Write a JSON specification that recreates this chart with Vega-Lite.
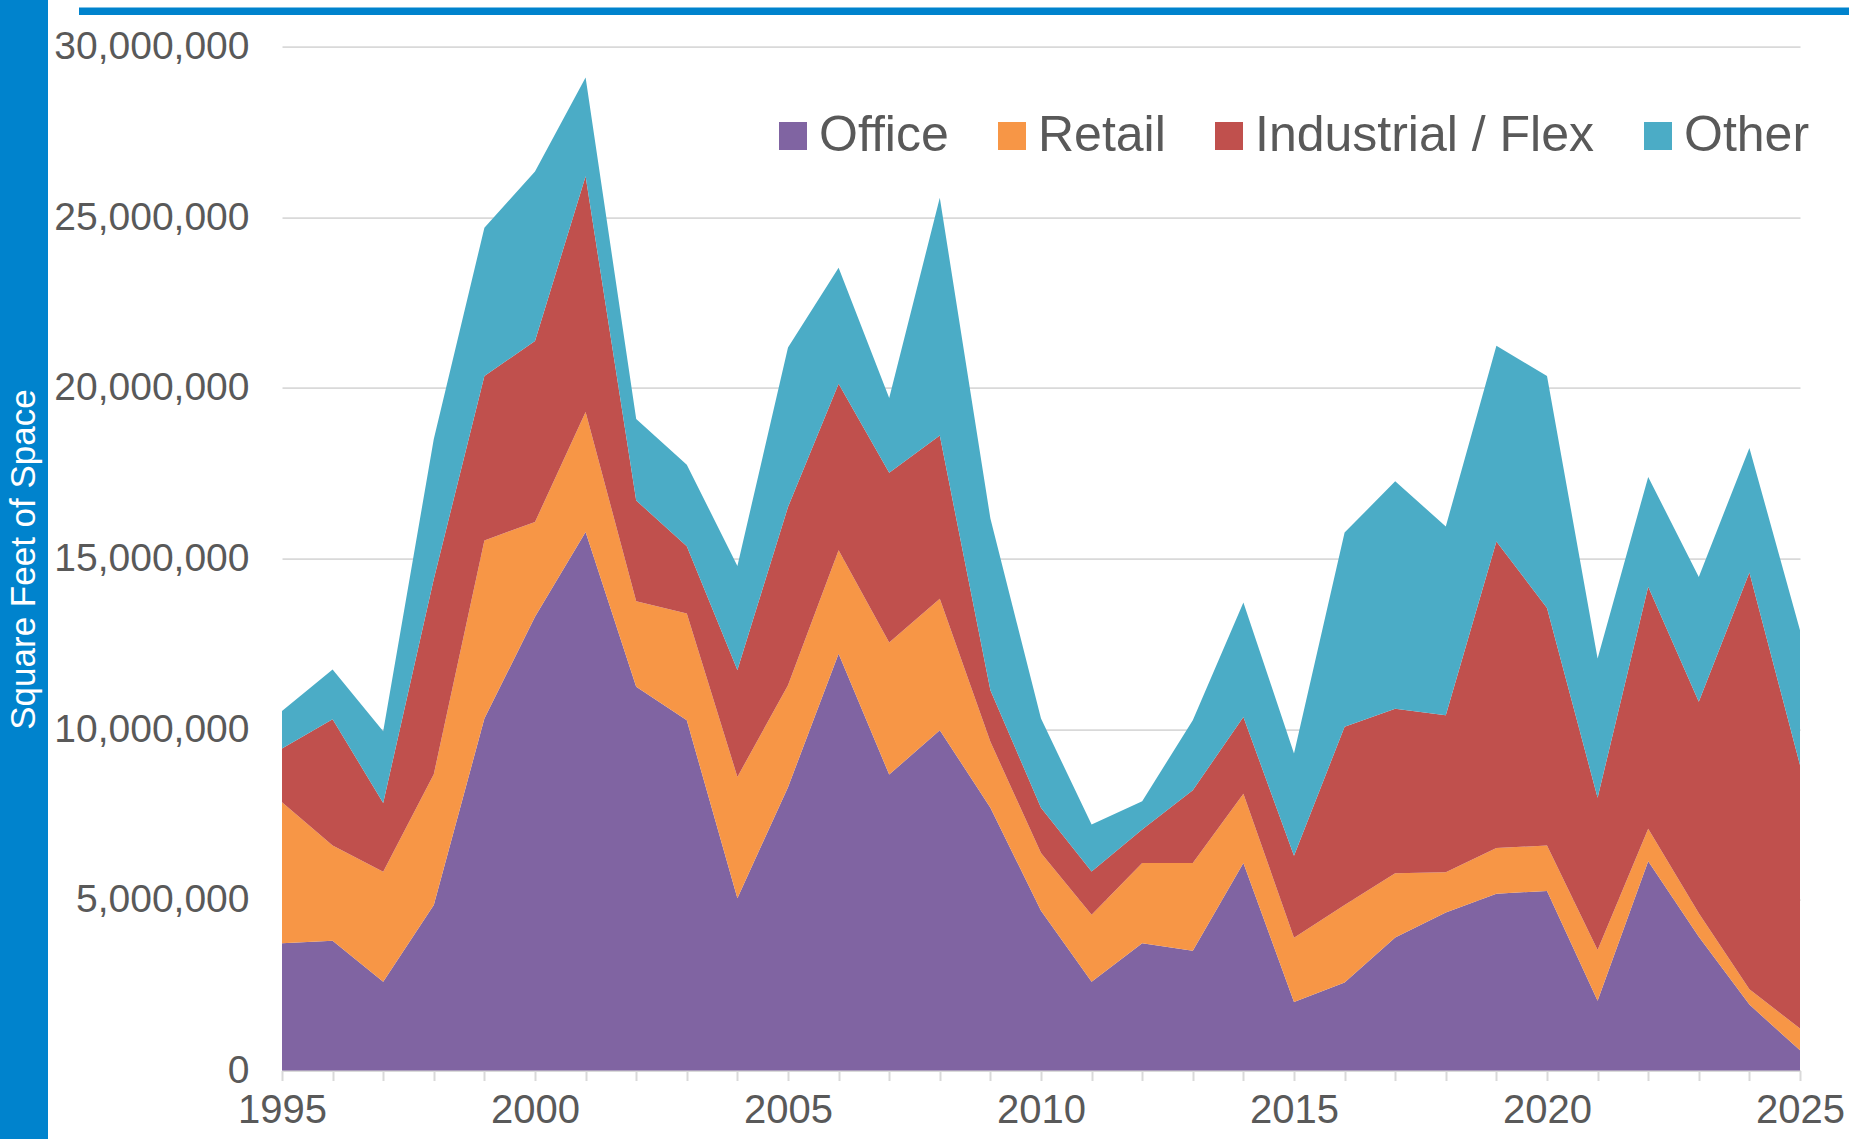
{
  "$schema": "https://vega.github.io/schema/vega-lite/v6.json",
  "padding": 0,
  "background": "white",
  "spacing": 4,
  "config": {"view": {"stroke": null}, "font": "Liberation Sans"},
  "datasets": {
    "space": [
      {"year":1995,"type":"Office","k":1,"sqft":3730000},{"year":1995,"type":"Retail","k":2,"sqft":4130000},{"year":1995,"type":"Industrial / Flex","k":3,"sqft":1570000},{"year":1995,"type":"Other","k":4,"sqft":1100000},
      {"year":1996,"type":"Office","k":1,"sqft":3800000},{"year":1996,"type":"Retail","k":2,"sqft":2790000},{"year":1996,"type":"Industrial / Flex","k":3,"sqft":3700000},{"year":1996,"type":"Other","k":4,"sqft":1460000},
      {"year":1997,"type":"Office","k":1,"sqft":2600000},{"year":1997,"type":"Retail","k":2,"sqft":3220000},{"year":1997,"type":"Industrial / Flex","k":3,"sqft":2020000},{"year":1997,"type":"Other","k":4,"sqft":2100000},
      {"year":1998,"type":"Office","k":1,"sqft":4850000},{"year":1998,"type":"Retail","k":2,"sqft":3830000},{"year":1998,"type":"Industrial / Flex","k":3,"sqft":5720000},{"year":1998,"type":"Other","k":4,"sqft":4100000},
      {"year":1999,"type":"Office","k":1,"sqft":10310000},{"year":1999,"type":"Retail","k":2,"sqft":5220000},{"year":1999,"type":"Industrial / Flex","k":3,"sqft":4820000},{"year":1999,"type":"Other","k":4,"sqft":4340000},
      {"year":2000,"type":"Office","k":1,"sqft":13290000},{"year":2000,"type":"Retail","k":2,"sqft":2780000},{"year":2000,"type":"Industrial / Flex","k":3,"sqft":5300000},{"year":2000,"type":"Other","k":4,"sqft":4970000},
      {"year":2001,"type":"Office","k":1,"sqft":15780000},{"year":2001,"type":"Retail","k":2,"sqft":3510000},{"year":2001,"type":"Industrial / Flex","k":3,"sqft":6910000},{"year":2001,"type":"Other","k":4,"sqft":2890000},
      {"year":2002,"type":"Office","k":1,"sqft":11240000},{"year":2002,"type":"Retail","k":2,"sqft":2510000},{"year":2002,"type":"Industrial / Flex","k":3,"sqft":2950000},{"year":2002,"type":"Other","k":4,"sqft":2390000},
      {"year":2003,"type":"Office","k":1,"sqft":10260000},{"year":2003,"type":"Retail","k":2,"sqft":3130000},{"year":2003,"type":"Industrial / Flex","k":3,"sqft":1970000},{"year":2003,"type":"Other","k":4,"sqft":2390000},
      {"year":2004,"type":"Office","k":1,"sqft":5050000},{"year":2004,"type":"Retail","k":2,"sqft":3550000},{"year":2004,"type":"Industrial / Flex","k":3,"sqft":3130000},{"year":2004,"type":"Other","k":4,"sqft":3050000},
      {"year":2005,"type":"Office","k":1,"sqft":8300000},{"year":2005,"type":"Retail","k":2,"sqft":2990000},{"year":2005,"type":"Industrial / Flex","k":3,"sqft":5220000},{"year":2005,"type":"Other","k":4,"sqft":4670000},
      {"year":2006,"type":"Office","k":1,"sqft":12210000},{"year":2006,"type":"Retail","k":2,"sqft":3030000},{"year":2006,"type":"Industrial / Flex","k":3,"sqft":4880000},{"year":2006,"type":"Other","k":4,"sqft":3400000},
      {"year":2007,"type":"Office","k":1,"sqft":8670000},{"year":2007,"type":"Retail","k":2,"sqft":3870000},{"year":2007,"type":"Industrial / Flex","k":3,"sqft":4970000},{"year":2007,"type":"Other","k":4,"sqft":2190000},
      {"year":2008,"type":"Office","k":1,"sqft":9970000},{"year":2008,"type":"Retail","k":2,"sqft":3850000},{"year":2008,"type":"Industrial / Flex","k":3,"sqft":4780000},{"year":2008,"type":"Other","k":4,"sqft":6970000},
      {"year":2009,"type":"Office","k":1,"sqft":7700000},{"year":2009,"type":"Retail","k":2,"sqft":1930000},{"year":2009,"type":"Industrial / Flex","k":3,"sqft":1510000},{"year":2009,"type":"Other","k":4,"sqft":5030000},
      {"year":2010,"type":"Office","k":1,"sqft":4680000},{"year":2010,"type":"Retail","k":2,"sqft":1690000},{"year":2010,"type":"Industrial / Flex","k":3,"sqft":1330000},{"year":2010,"type":"Other","k":4,"sqft":2610000},
      {"year":2011,"type":"Office","k":1,"sqft":2600000},{"year":2011,"type":"Retail","k":2,"sqft":1960000},{"year":2011,"type":"Industrial / Flex","k":3,"sqft":1270000},{"year":2011,"type":"Other","k":4,"sqft":1380000},
      {"year":2012,"type":"Office","k":1,"sqft":3730000},{"year":2012,"type":"Retail","k":2,"sqft":2350000},{"year":2012,"type":"Industrial / Flex","k":3,"sqft":980000},{"year":2012,"type":"Other","k":4,"sqft":830000},
      {"year":2013,"type":"Office","k":1,"sqft":3510000},{"year":2013,"type":"Retail","k":2,"sqft":2570000},{"year":2013,"type":"Industrial / Flex","k":3,"sqft":2130000},{"year":2013,"type":"Other","k":4,"sqft":2050000},
      {"year":2014,"type":"Office","k":1,"sqft":6080000},{"year":2014,"type":"Retail","k":2,"sqft":2030000},{"year":2014,"type":"Industrial / Flex","k":3,"sqft":2250000},{"year":2014,"type":"Other","k":4,"sqft":3350000},
      {"year":2015,"type":"Office","k":1,"sqft":2010000},{"year":2015,"type":"Retail","k":2,"sqft":1880000},{"year":2015,"type":"Industrial / Flex","k":3,"sqft":2400000},{"year":2015,"type":"Other","k":4,"sqft":3000000},
      {"year":2016,"type":"Office","k":1,"sqft":2580000},{"year":2016,"type":"Retail","k":2,"sqft":2270000},{"year":2016,"type":"Industrial / Flex","k":3,"sqft":5220000},{"year":2016,"type":"Other","k":4,"sqft":5690000},
      {"year":2017,"type":"Office","k":1,"sqft":3900000},{"year":2017,"type":"Retail","k":2,"sqft":1880000},{"year":2017,"type":"Industrial / Flex","k":3,"sqft":4820000},{"year":2017,"type":"Other","k":4,"sqft":6660000},
      {"year":2018,"type":"Office","k":1,"sqft":4630000},{"year":2018,"type":"Retail","k":2,"sqft":1180000},{"year":2018,"type":"Industrial / Flex","k":3,"sqft":4600000},{"year":2018,"type":"Other","k":4,"sqft":5530000},
      {"year":2019,"type":"Office","k":1,"sqft":5180000},{"year":2019,"type":"Retail","k":2,"sqft":1340000},{"year":2019,"type":"Industrial / Flex","k":3,"sqft":8980000},{"year":2019,"type":"Other","k":4,"sqft":5730000},
      {"year":2020,"type":"Office","k":1,"sqft":5260000},{"year":2020,"type":"Retail","k":2,"sqft":1330000},{"year":2020,"type":"Industrial / Flex","k":3,"sqft":6960000},{"year":2020,"type":"Other","k":4,"sqft":6800000},
      {"year":2021,"type":"Office","k":1,"sqft":2040000},{"year":2021,"type":"Retail","k":2,"sqft":1490000},{"year":2021,"type":"Industrial / Flex","k":3,"sqft":4460000},{"year":2021,"type":"Other","k":4,"sqft":4080000},
      {"year":2022,"type":"Office","k":1,"sqft":6130000},{"year":2022,"type":"Retail","k":2,"sqft":950000},{"year":2022,"type":"Industrial / Flex","k":3,"sqft":7090000},{"year":2022,"type":"Other","k":4,"sqft":3220000},
      {"year":2023,"type":"Office","k":1,"sqft":3920000},{"year":2023,"type":"Retail","k":2,"sqft":690000},{"year":2023,"type":"Industrial / Flex","k":3,"sqft":6190000},{"year":2023,"type":"Other","k":4,"sqft":3660000},
      {"year":2024,"type":"Office","k":1,"sqft":1930000},{"year":2024,"type":"Retail","k":2,"sqft":450000},{"year":2024,"type":"Industrial / Flex","k":3,"sqft":12210000},{"year":2024,"type":"Other","k":4,"sqft":3650000},
      {"year":2025,"type":"Office","k":1,"sqft":590000},{"year":2025,"type":"Retail","k":2,"sqft":640000},{"year":2025,"type":"Industrial / Flex","k":3,"sqft":7720000},{"year":2025,"type":"Other","k":4,"sqft":3950000}
    ]
  },
  "hconcat": [
    {
      "width": 48,
      "height": 1139,
      "view": {"fill": "#0083CD", "stroke": null},
      "data": {"values": [{"label": "Square Feet of Space"}]},
      "mark": {"type": "text", "angle": 270, "color": "white", "fontSize": 35, "font": "Liberation Sans", "baseline": "middle", "align": "center", "dx": 10},
      "encoding": {"text": {"field": "label", "type": "nominal"}}
    },
    {
      "spacing": 12.5,
      "vconcat": [
        {
          "spacing": 0,
          "hconcat": [
            {
              "width": 27,
              "height": 15,
              "data": {"values": []},
              "mark": "rect",
              "encoding": {}
            },
            {
              "width": 1770,
              "height": 15,
              "data": {"values": [{"a": 0, "b": 1, "c": 0, "d": 1}]},
              "mark": {"type": "rect", "color": "#0083CD"},
              "encoding": {
                "x": {"field": "c", "type": "quantitative", "scale": {"domain": [0, 1], "nice": false}, "axis": null},
                "x2": {"field": "d"},
                "y": {"field": "a", "type": "quantitative", "scale": {"domain": [0, 2], "nice": false}, "axis": null},
                "y2": {"field": "b"}
              }
            }
          ]
        },
        {
          "spacing": 0,
          "hconcat": [
            {
              "width": 1,
              "height": 1,
              "data": {"values": []},
              "mark": "rect",
              "encoding": {}
            },
            {
              "width": 1518,
              "height": 1024,
              "data": {"name": "space"},
              "mark": {"type": "area", "opacity": 1},
              "encoding": {
                "x": {
                  "field": "year", "type": "quantitative",
                  "scale": {"domain": [1995, 2025], "nice": false, "zero": false},
                  "axis": {
                    "title": null,
                    "values": [1995,1996,1997,1998,1999,2000,2001,2002,2003,2004,2005,2006,2007,2008,2009,2010,2011,2012,2013,2014,2015,2016,2017,2018,2019,2020,2021,2022,2023,2024,2025],
                    "format": "d",
                    "labelExpr": "datum.value % 5 === 0 ? datum.label : ''",
                    "grid": false,
                    "domainColor": "#D9D9D9", "domainWidth": 2,
                    "tickColor": "#D9D9D9", "tickWidth": 2, "tickSize": 10,
                    "labelFontSize": 40, "labelColor": "#595959", "labelPadding": 10,
                    "labelFont": "Liberation Sans", "labelOverlap": false, "labelFlush": false
                  }
                },
                "y": {
                  "field": "sqft", "type": "quantitative", "stack": "zero",
                  "scale": {"domain": [0, 30000000], "nice": false},
                  "axis": {
                    "title": null,
                    "values": [0, 5000000, 10000000, 15000000, 20000000, 25000000, 30000000],
                    "format": ",d",
                    "domain": false, "ticks": false,
                    "gridColor": "#D9D9D9", "gridWidth": 1.75,
                    "labelFontSize": 39, "labelColor": "#595959", "labelPadding": 33, "labelLimit": 500,
                    "labelFont": "Liberation Sans", "labelOverlap": false, "labelFlush": false
                  }
                },
                "color": {
                  "field": "type", "type": "nominal",
                  "scale": {"domain": ["Office", "Retail", "Industrial / Flex", "Other"], "range": ["#8064A2", "#F79646", "#C0504D", "#4BACC6"]},
                  "legend": {
                    "orient": "none", "legendX": 768, "legendY": 111,
                    "direction": "horizontal", "title": null,
                    "symbolType": "square", "symbolSize": 784, "symbolStrokeWidth": 0, "symbolOpacity": 1,
                    "labelFontSize": 50, "labelColor": "#595959", "labelFont": "Liberation Sans",
                    "labelOffset": 1, "columnPadding": 38, "padding": 0, "labelLimit": 600
                  }
                },
                "order": {"field": "k", "type": "quantitative", "sort": "ascending"}
              }
            }
          ]
        }
      ]
    }
  ]
}
